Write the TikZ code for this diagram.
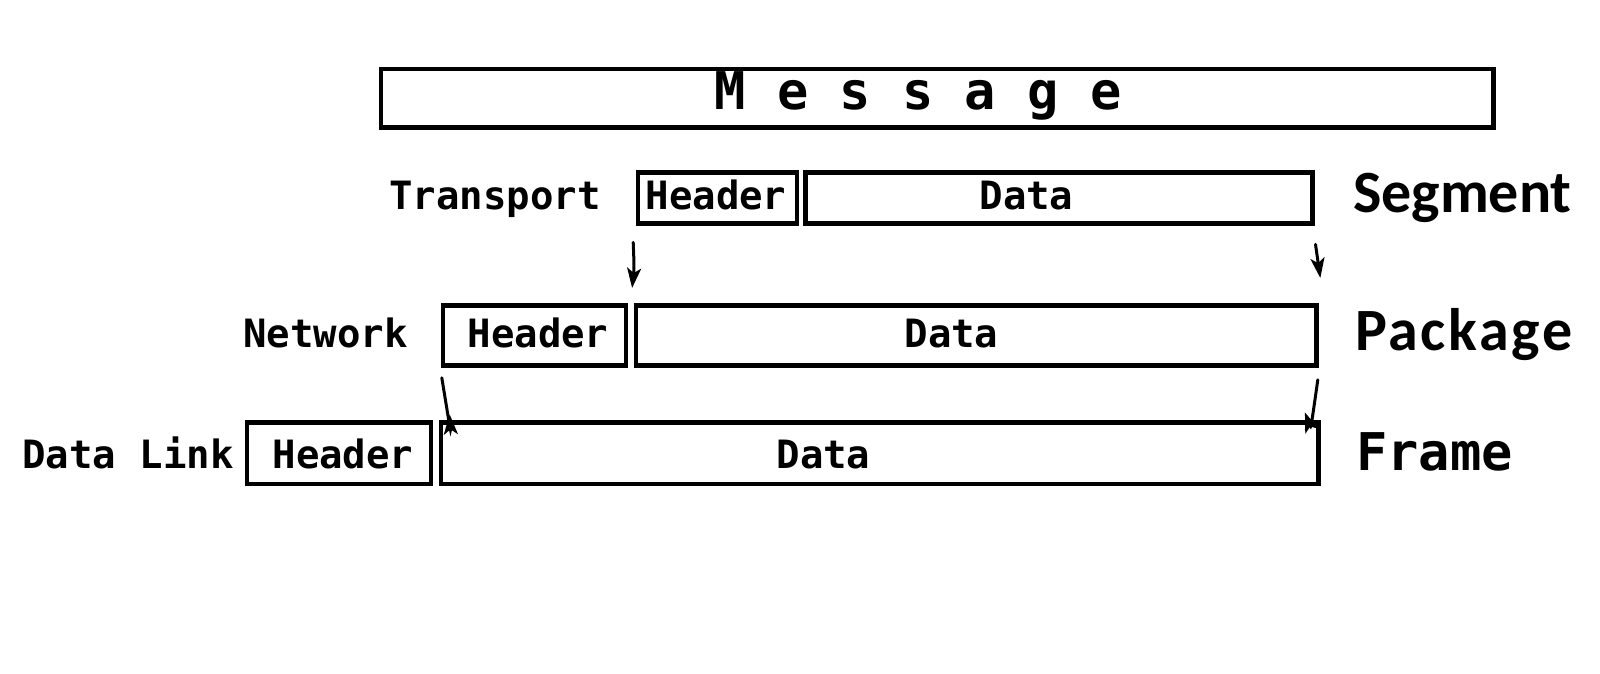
\documentclass[tikz,border=0pt]{standalone}
\usepackage{fontspec}
\newfontfamily\monofont{DejaVu Sans Mono}
\newfontfamily\labelfont{Carlito}
\usetikzlibrary{arrows.meta}
\begin{document}
\begin{tikzpicture}[x=1pt,y=-1pt,
  pbox/.style={draw,line width=4.5pt,anchor=north west,inner sep=0pt},
  mtext/.style={font=\monofont\bfseries\fontsize{39}{39}\selectfont,inner sep=0pt},
  ltext/.style={font=\labelfont\bfseries\fontsize{60}{60}\selectfont,inner sep=0pt,anchor=base west},
  arr/.style={line width=3pt,line cap=round,-{Stealth[length=20pt,width=14pt,inset=5pt]}}]
\useasboundingbox (0,0) rectangle (1600,674);
% Message
\node[pbox,minimum width=1112.5pt,minimum height=58.5pt] (msg) at (378.5,67) {};
\node[inner sep=0pt,anchor=base,font=\monofont\bfseries\fontsize{52}{52}\selectfont] (msgt) at (918,110) {M e s s a g e};
% Row 1
\node[pbox,minimum width=159pt,minimum height=51pt] (h1) at (635.7,170.4) {};
\node[pbox,minimum width=507pt,minimum height=51pt] (d1) at (803,170.4) {};
\node[mtext,anchor=base west] (l1) at (389,209) {Transport};
\node[mtext,anchor=base] (h1t) at (716,209) {Header};
\node[mtext,anchor=base] (d1t) at (1026.5,209) {Data};
\node[ltext] (r1) at (1353,212) {Segment};
% Row 2
\node[pbox,minimum width=182.7pt,minimum height=60.3pt] (h2) at (440.8,303) {};
\node[pbox,minimum width=680.7pt,minimum height=60.3pt] (d2) at (633.6,303) {};
\node[mtext,anchor=base west] (l2) at (243,347) {Network};
\node[mtext,anchor=base] (h2t) at (538,347) {Header};
\node[mtext,anchor=base] (d2t) at (951.5,347) {Data};
\node[ltext] (r2) at (1355,350) {\addfontfeature{LetterSpace=4.5}Package};
% Row 3
\node[pbox,minimum width=183.7pt,minimum height=61.3pt] (h3) at (244.9,420.4) {};
\node[pbox,minimum width=877.7pt,minimum height=61.3pt] (d3) at (438.7,420.4) {};
\node[mtext,anchor=base west] (l3) at (22,468) {Data Link};
\node[mtext,anchor=base] (h3t) at (343,468) {Header};
\node[mtext,anchor=base] (d3t) at (823.5,468) {Data};
\node[inner sep=0pt,anchor=base west,font=\monofont\bfseries\fontsize{52}{52}\selectfont] (r3) at (1356,470) {Frame};
% arrows
\coordinate (a1s) at ([xshift=-2.5pt,yshift=-16.5pt]h1.south west);
\coordinate (a1e) at ([xshift=-1.5pt,yshift=15pt]d2.north west);
\coordinate (a2s) at ([xshift=1pt,yshift=-18.5pt]d1.south east);
\coordinate (a2e) at ([xshift=1.5pt,yshift=25pt]d2.north east);
\coordinate (a3s) at ([xshift=1pt,yshift=-10pt]h2.south west);
\coordinate (a3e) at ([xshift=11pt,yshift=6pt]d3.north west);
\coordinate (a4s) at ([xshift=-1pt,yshift=-12pt]d2.south east);
\coordinate (a4e) at ([xshift=-16pt,yshift=8pt]d3.north east);
\draw[arr] (a1s) .. controls ([xshift=1pt,yshift=-25pt]a1s) .. (a1e);
\draw[arr] (a2s) -- (a2e);
\draw[arr] (a3s) .. controls ([xshift=1pt,yshift=-18pt]a3e) .. (a3e);
\draw[arr] (a4s) .. controls ([xshift=6pt,yshift=-16pt]a4e) .. (a4e);
\end{tikzpicture}
\end{document}
